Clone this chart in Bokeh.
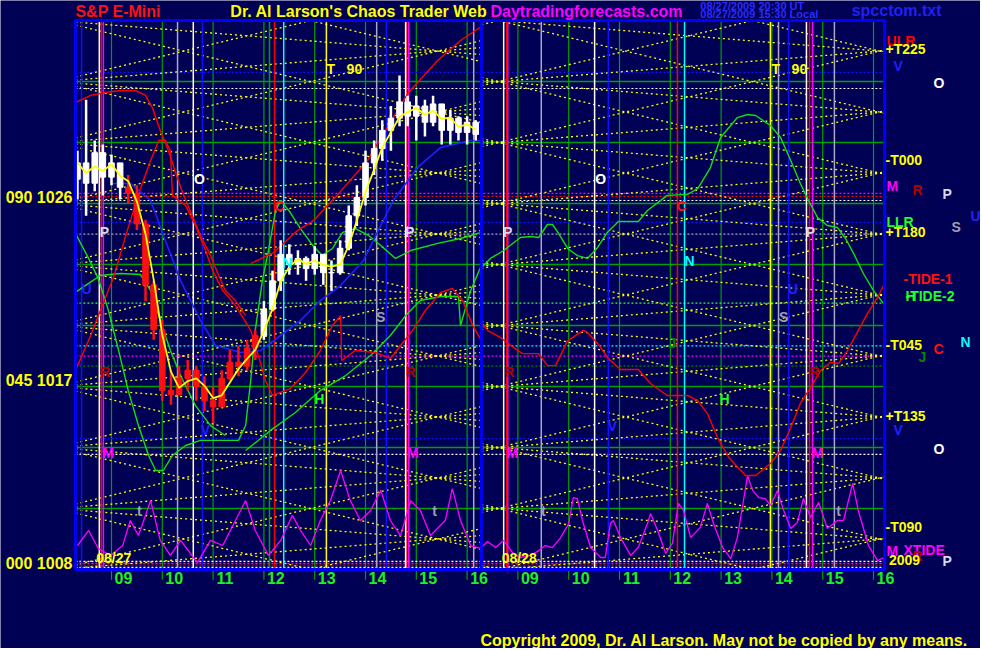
import numpy as np
import pandas as pd
from bokeh.plotting import figure
from bokeh.models import Label, FixedTicker
from bokeh.core.properties import value
from bokeh.embed import file_html
from bokeh.resources import INLINE

NAVY = "#000055"
FONT = "Liberation Sans"

# chart box (hours on x: day-2 hours are shifted by +8; S&P price on y)
X_START, X_END = 8.29, 24.22
Y_MIN, Y_MAX = 1008, 1035
DAY_SPLIT = 16.28
# whole canvas in the same units (texts around the chart live here)
CANVAS_X = (6.815, 26.106)
CANVAS_Y = (1004.114, 1035.988)

# ---------------- price bars (day 1, 10-minute bars) ----------------
bar_time = [8.33, 8.5, 8.67, 8.83, 9.0, 9.17, 9.33, 9.5, 9.67, 9.83, 10.0, 10.17,
            10.33, 10.5, 10.67, 10.83, 11.0, 11.17, 11.33, 11.5, 11.67, 11.83, 12.0, 12.17,
            12.33, 12.5, 12.67, 12.83, 13.0, 13.17, 13.33, 13.5, 13.67, 13.83, 14.0, 14.17,
            14.33, 14.5, 14.67, 14.83, 15.0, 15.17, 15.33, 15.5, 15.67, 15.83, 16.0, 16.17]
bar_open = [1027.2, 1028.0, 1027.0, 1028.5, 1027.3, 1028.0, 1026.8, 1026.5, 1025.0, 1022.0, 1019.8, 1016.8,
            1016.6, 1017.4, 1017.8, 1017.0, 1016.3, 1016.0, 1017.4, 1018.2, 1018.0, 1018.9, 1019.5, 1020.8,
            1022.2, 1023.5, 1023.0, 1023.3, 1022.8, 1023.5, 1022.6, 1022.6, 1023.8, 1025.4, 1026.3, 1028.0,
            1028.7, 1029.6, 1030.2, 1031.0, 1030.3, 1030.8, 1030.0, 1030.9, 1029.6, 1030.2, 1029.5, 1030.0]
bar_high = [1028.6, 1031.1, 1029.1, 1028.9, 1028.4, 1027.9, 1027.4, 1026.9, 1025.2, 1022.2, 1020.3, 1017.8,
            1018.0, 1018.3, 1018.0, 1017.5, 1017.0, 1017.8, 1018.8, 1019.0, 1019.3, 1019.8, 1021.2, 1022.7,
            1024.2, 1024.0, 1023.7, 1023.4, 1023.9, 1023.4, 1023.2, 1024.2, 1025.9, 1026.9, 1028.6, 1029.1,
            1030.1, 1030.8, 1032.3, 1031.3, 1031.3, 1031.1, 1031.3, 1030.6, 1030.6, 1030.3, 1030.3, 1030.1]
bar_low = [1026.2, 1025.4, 1026.6, 1026.4, 1026.9, 1026.2, 1026.0, 1024.7, 1021.2, 1019.3, 1016.3, 1016.1,
           1016.6, 1016.8, 1016.3, 1015.8, 1015.2, 1016.6, 1017.3, 1017.5, 1017.8, 1018.3, 1019.3, 1020.7,
           1021.7, 1022.5, 1022.5, 1022.2, 1022.5, 1022.0, 1021.7, 1022.5, 1023.7, 1024.9, 1025.9, 1027.4,
           1028.1, 1028.6, 1029.8, 1029.8, 1029.1, 1029.3, 1029.8, 1028.9, 1028.9, 1029.1, 1028.9, 1029.1]
bar_close = [1028.0, 1027.0, 1028.5, 1027.3, 1028.0, 1026.8, 1026.5, 1025.0, 1022.0, 1019.8, 1016.8, 1016.6,
             1017.4, 1017.8, 1017.0, 1016.3, 1016.0, 1017.4, 1018.2, 1018.0, 1018.9, 1019.5, 1020.8, 1022.2,
             1023.5, 1023.0, 1023.3, 1022.8, 1023.5, 1022.6, 1022.6, 1023.8, 1025.4, 1026.3, 1028.0, 1028.7,
             1029.6, 1030.2, 1031.0, 1030.3, 1030.8, 1030.0, 1030.9, 1029.6, 1030.2, 1029.5, 1030.0, 1029.4]
red_bar_from, red_bar_to = 9.3, 11.95

# slow average line (blue)
blue_t = [8.98, 9.37, 9.77, 10.06, 10.36, 10.75, 11.05, 11.54, 11.93, 12.33, 12.72, 13.11,
          13.51, 13.96, 14.30, 14.55, 15.02, 15.48, 16.07, 16.28]
blue_p = [1026.99, 1026.99, 1026.15, 1024.18, 1022.21, 1020.25, 1019.02, 1018.67, 1018.77, 1019.51, 1020.25, 1021.23,
          1021.97, 1023.20, 1024.92, 1026.15, 1027.77, 1028.76, 1029.10, 1029.10]

# ---------------- tide curves ----------------
tide1_d1_t = [8.29, 8.59, 8.78, 9.04, 9.31, 9.57, 9.77, 9.93, 10.06, 10.16, 10.20, 10.46, 10.65, 10.85, 10.99,
              11.19, 11.44, 11.74, 11.89, 12.03, 12.17, 12.52, 12.82, 13.11, 13.35, 13.51, 13.53, 13.80, 14.20,
              14.49, 14.69, 14.93, 15.18, 15.48, 15.71, 15.91, 16.11, 16.28]
tide1_d1_p = [1017.79, 1019.51, 1020.74, 1022.36, 1024.67, 1026.74, 1028.12, 1029.10, 1029.10, 1028.61, 1026.40,
              1025.90, 1024.92, 1023.69, 1022.71, 1021.72, 1020.99, 1019.76, 1018.53, 1017.30, 1016.56, 1016.90,
              1017.69, 1018.77, 1020.00, 1020.49, 1018.28, 1018.77, 1018.67, 1018.38, 1019.02, 1019.76, 1020.74,
              1021.63, 1021.82, 1021.23, 1020.00, 1019.26]
arc_d1_t = [8.29, 8.59, 8.88, 9.18, 9.47, 9.67, 9.81, 9.96, 10.12, 10.28, 10.42, 10.59, 10.75, 10.95, 11.11,
            11.24, 11.44, 11.64]
arc_d1_p = [1030.97, 1031.32, 1031.46, 1031.56, 1031.56, 1031.32, 1030.68, 1029.59, 1028.61, 1027.38, 1026.40,
            1025.41, 1024.43, 1023.45, 1022.46, 1021.72, 1021.23, 1020.49]
rise_d1_t = [11.74, 12.19, 12.66, 12.98, 13.47, 14.04, 14.63, 14.83, 15.42, 15.87, 16.28]
rise_d1_p = [1023.05, 1023.59, 1024.67, 1025.17, 1026.49, 1028.12, 1030.58, 1031.41, 1033.04, 1034.02, 1034.71]
tide1_d2_t = [16.28, 16.40, 16.66, 16.80, 17.09, 17.41, 17.58, 17.74, 17.98, 18.29, 18.37, 18.57, 18.78, 19.02,
              19.37, 19.61, 19.94, 20.34, 20.54, 20.73, 20.93, 21.15, 21.48, 21.68, 21.97, 22.17, 22.37, 22.56,
              22.76, 22.96, 23.15, 23.31, 23.49, 23.70, 23.88, 24.08, 24.22]
tide1_d2_p = [1020.15, 1019.76, 1019.41, 1019.12, 1018.62, 1018.62, 1018.03, 1018.03, 1019.26, 1019.76, 1019.66,
              1019.12, 1018.38, 1017.84, 1017.84, 1017.15, 1016.56, 1016.56, 1016.31, 1015.67, 1014.49, 1013.51,
              1012.62, 1012.62, 1013.21, 1013.85, 1014.98, 1016.17, 1016.95, 1017.79, 1018.18, 1018.13, 1018.77,
              1019.76, 1020.59, 1021.38, 1022.07]

tide2_d1_t = [8.29, 8.55, 8.74, 8.94, 9.14, 9.33, 9.53, 9.73, 9.87, 10.02, 10.20, 10.46, 10.75, 11.50, 11.64,
              11.74, 11.83, 11.97, 12.09, 12.23, 12.33, 12.52, 12.72, 12.96, 13.15, 13.35, 13.55, 13.80, 14.06,
              14.30, 14.59, 14.89, 15.42, 15.87, 16.28]
tide2_d1_p = [1024.53, 1023.30, 1022.31, 1020.74, 1018.77, 1016.80, 1015.08, 1013.61, 1012.87, 1012.87, 1013.61,
              1014.10, 1014.35, 1014.35, 1015.08, 1017.30, 1019.76, 1022.22, 1023.69, 1025.66, 1026.15, 1025.56,
              1024.77, 1023.94, 1023.45, 1023.79, 1024.58, 1024.77, 1024.43, 1023.94, 1023.30, 1023.69, 1024.04,
              1024.28, 1024.58]
hline_d1_t = [11.64, 12.13, 12.62, 13.11, 13.61, 14.10, 14.49, 14.79, 15.08, 15.48, 15.83, 15.87, 16.07, 16.28]
hline_d1_p = [1013.85, 1014.84, 1015.72, 1016.80, 1017.54, 1018.53, 1019.51, 1020.49, 1021.23, 1021.43, 1021.43,
              1020.00, 1021.72, 1022.95]
flat_d1_t = [8.29, 8.55, 8.78, 9.18, 9.57, 9.77, 9.96, 10.16, 10.36, 10.65, 10.95, 11.24]
flat_d1_p = [1021.63, 1022.07, 1022.46, 1022.56, 1022.51, 1021.72, 1020.25, 1018.77, 1017.54, 1016.07, 1015.08,
             1014.59]
tide2_d2_t = [16.28, 16.46, 16.72, 17.05, 17.25, 17.41, 17.58, 17.68, 17.80, 17.98, 18.17, 18.37, 18.57, 18.76,
              18.98, 19.37, 19.55, 19.94, 20.34, 20.54, 20.79, 20.99, 21.32, 21.52, 21.68, 21.97, 22.17, 22.37,
              22.56, 22.72, 22.90, 23.09, 23.29, 23.45, 23.61, 23.80, 24.00, 24.20]
tide2_d2_p = [1022.85, 1023.30, 1023.69, 1024.33, 1024.38, 1024.33, 1024.97, 1024.97, 1024.53, 1023.79, 1023.44,
              1023.30, 1023.84, 1024.58, 1025.12, 1025.12, 1025.66, 1026.40, 1026.45, 1026.74, 1027.77, 1029.25,
              1030.23, 1030.38, 1030.33, 1029.84, 1029.25, 1028.12, 1026.99, 1026.15, 1025.31, 1024.92, 1024.82,
              1024.28, 1023.54, 1022.56, 1021.72, 1021.08]

xtide_d1_t = [8.33, 8.55, 8.74, 8.98, 9.22, 9.37, 9.53, 9.77, 9.96, 10.16, 10.36, 10.69, 10.95, 11.19, 11.44,
              11.64, 11.83, 12.09, 12.33, 12.56, 12.72, 12.92, 13.11, 13.31, 13.51, 13.70, 13.90, 14.10, 14.30,
              14.49, 14.69, 14.89, 15.08, 15.28, 15.57, 15.71, 15.87, 16.07, 16.28]
xtide_d1_p = [1009.18, 1009.92, 1009.03, 1008.69, 1009.18, 1010.41, 1009.67, 1011.39, 1009.43, 1008.69, 1009.43,
              1008.34, 1009.43, 1009.18, 1010.41, 1011.39, 1009.92, 1008.69, 1009.43, 1010.66, 1009.92, 1009.18,
              1010.41, 1011.39, 1012.87, 1011.39, 1010.41, 1010.90, 1011.89, 1010.41, 1009.67, 1011.39, 1010.90,
              1009.67, 1010.41, 1011.98, 1010.41, 1009.18, 1009.03]
xtide_d2_t = [16.28, 16.40, 16.56, 16.72, 16.89, 17.05, 17.25, 17.41, 17.54, 17.68, 17.84, 18.00, 18.09, 18.17,
              18.27, 18.43, 18.63, 18.72, 18.82, 18.88, 19.02, 19.22, 19.37, 19.55, 19.61, 19.75, 19.91, 20.04,
              20.16, 20.26, 20.40, 20.59, 20.73, 20.85, 21.03, 21.19, 21.32, 21.52, 21.62, 21.74, 21.87, 21.97,
              22.11, 22.21, 22.37, 22.50, 22.62, 22.76, 22.92, 23.09, 23.29, 23.41, 23.59, 23.70, 23.90, 24.08,
              24.20]
xtide_d2_p = [1009.08, 1009.38, 1009.08, 1009.43, 1008.84, 1008.59, 1008.69, 1008.93, 1009.18, 1009.08, 1009.57,
              1010.26, 1011.54, 1011.49, 1010.41, 1009.08, 1008.59, 1008.59, 1010.26, 1010.41, 1009.57, 1008.69,
              1009.08, 1010.26, 1010.75, 1009.92, 1008.79, 1009.28, 1011.25, 1010.90, 1009.57, 1010.07, 1011.25,
              1010.26, 1009.08, 1008.54, 1009.57, 1012.62, 1011.89, 1011.54, 1011.49, 1011.15, 1011.89, 1011.05,
              1010.02, 1010.31, 1011.49, 1010.56, 1011.30, 1010.02, 1010.41, 1010.41, 1012.23, 1010.90, 1009.18,
              1008.44, 1008.59]

# ---------------- time lines and price levels ----------------
hour_ticks = [9, 10, 11, 12, 13, 14, 15, 16, 17, 18, 19, 20, 21, 22, 23, 24]
hour_labels = ["09", "10", "11", "12", "13", "14", "15", "16"] * 2
hour_tick_low = 1007.5
vline_time = [8.41, 8.76, 8.80, 8.84, 10.30, 10.61, 10.79, 12.11, 12.21, 12.39, 13.23, 14.22, 14.41,
              14.79, 14.81, 14.85, 16.13,
              16.72, 16.78, 16.80, 17.46, 18.51, 18.78, 20.14, 20.28, 21.97, 22.13, 22.33, 22.68, 22.74,
              22.80, 23.23]
vline_kind = ["blue", "white", "red", "magenta", "gray", "white", "blue", "green", "red", "cyan", "yellow",
              "gray", "blue", "white", "red", "magenta", "gray",
              "white", "red", "magenta", "gray", "white", "blue", "red", "cyan", "yellow", "gray", "blue",
              "white", "red", "magenta", "gray"]
grid_levels = [1008, 1011, 1014, 1017, 1020, 1023, 1026, 1029, 1032, 1035]
level_price = [1032.45, 1031.66, 1026.50, 1026.35, 1026.15, 1025.07, 1024.50, 1021.10, 1019.00, 1018.50,
               1018.00, 1014.44, 1013.66, 1008.40, 1008.30, 1008.22, 1008.10]
level_kind = ["blue", "white", "magenta", "red", "white", "blue", "gray", "lime", "cyan", "magenta",
              "darkgreen", "blue", "white", "white", "magenta", "red", "white"]

# time-price lattice ("T" lines)
lattice_anchor = [7.92, 16.62]
lattice_slopes = [0.2, 0.6]
lattice_step = 3.0

left_ticks = [1008.3, 1017.3, 1026.3]
left_labels = ["000 1008", "045 1017", "090 1026"]

# letters drawn inside the chart
mark_text = ["T\u00a0\u00a0\u00a090", "T\u00a0\u00a0\u00a090", "O", "O", "P", "P", "P", "P", "C", "C", "N", "N",
             "U", "U", "S", "S", "J", "R", "R", "R", "R", "H", "H", "V", "V", "M", "M", "M", "M",
             "t", "t", "t", "t", "08/27", "08/28"]
mark_t = [13.23, 21.99, 10.73, 18.63, 8.86, 14.87, 16.80, 22.76, 12.31, 20.22, 12.46, 20.38, 8.51, 22.41,
          14.30, 22.23, 20.04, 8.88, 14.89, 16.83, 22.84, 13.09, 21.07, 10.85, 18.86, 8.94, 14.93, 16.89,
          22.90, 9.55, 15.36, 17.50, 23.31, 8.70, 16.68]
mark_p = [1032.64, 1032.64, 1027.23, 1027.23, 1024.58, 1024.58, 1024.58, 1024.58, 1025.86, 1025.86, 1023.10,
          1023.15, 1021.82, 1021.82, 1020.44, 1020.44, 1019.12, 1017.69, 1017.69, 1017.69, 1017.69, 1016.41,
          1016.41, 1014.84, 1015.08, 1013.71, 1013.71, 1013.71, 1013.71, 1010.90, 1010.90, 1010.90, 1010.90,
          1008.59, 1008.59]

# labels right of the chart
side_text = ["ULR", "+T225", "V", "O", "-T000", "M", "R", "P", "U", "S", "LLR", "+T180", "-TIDE-1",
             "-TIDE-2", "H", "-T045", "C", "N", "J", "+T135", "V", "O", "-T090", "M", "XTIDE", "R", "2009", "P"]
side_t = [24.256, 24.236, 24.394, 25.181, 24.236, 24.256, 24.768, 25.358, 25.909, 25.535, 24.256, 24.236,
          24.591, 24.630, 24.630, 24.236, 25.181, 25.713, 24.886, 24.236, 24.394, 25.181, 24.236, 24.256,
          24.591, 24.768, 24.303, 25.358]
side_p = [1034.02, 1033.58, 1032.79, 1031.95, 1028.12, 1026.84, 1026.69, 1026.49, 1025.41, 1024.87, 1025.07,
          1024.58, 1022.31, 1021.43, 1021.43, 1019.02, 1018.87, 1019.21, 1018.43, 1015.53, 1014.84, 1013.95,
          1010.07, 1008.89, 1008.98, 1008.64, 1008.49, 1008.44]

COL = {"white": "#ffffff", "gray": "#a8a8c8", "red": "#ff0000", "magenta": "#ff00ff", "cyan": "#00ffff",
       "yellow": "#ffff00", "blue": "#1010ff", "green": "#00a000", "lime": "#30ff30", "darkgreen": "#008000"}
LETTER_COL = {"O": "#ffffff", "P": "#d8d8f0", "C": "#ff1010", "N": "#00ffff",
              "U": "#2020ff", "S": "#a0a0b0", "J": "#008800", "R": "#b00000", "H": "#20ff20", "V": "#2020ff",
              "M": "#ff00ff", "t": "#a0a0b0", "08/27": "#ffff00", "08/28": "#ffff00",
              "ULR": "#ff0000", "LLR": "#20ff20", "-TIDE-1": "#ff1010", "-TIDE-2": "#20ff20",
              "XTIDE": "#ff00ff", "2009": "#ffff00"}

# ---------------- figure ----------------
p = figure(width=980, height=648, x_range=CANVAS_X, y_range=CANVAS_Y,
           output_backend="svg", toolbar_location=None,
           min_border_left=0, min_border_right=0, min_border_top=0, min_border_bottom=0,
           background_fill_color=NAVY, border_fill_color=NAVY, outline_line_color=None)
p.grid.visible = False

n = len(grid_levels)
p.segment([X_START] * n, grid_levels, [X_END] * n, grid_levels, line_color=COL["green"], line_width=1.5)
n = len(hour_ticks)
p.segment(hour_ticks, [hour_tick_low] * n, hour_ticks, [Y_MAX] * n, line_color=COL["green"], line_width=1.2)

# dotted price levels
for kind in sorted(set(level_kind)):
    ys = [y for y, k in zip(level_price, level_kind) if k == kind]
    p.segment([X_START] * len(ys), ys, [X_END] * len(ys), ys, line_color=COL[kind], line_width=1.2,
              line_dash="2 2")


def clip_to_box(xa, ya, xb, yb):
    lo, hi = 0.0, 1.0
    dy = yb - ya
    for bound, sign in ((Y_MIN, 1), (Y_MAX, -1)):
        if dy == 0:
            if (ya - bound) * sign < 0:
                return None
            continue
        tb = (bound - ya) / dy
        if dy * sign > 0:
            lo = max(lo, tb)
        else:
            hi = min(hi, tb)
    if lo >= hi:
        return None
    return xa + (xb - xa) * lo, ya + dy * lo, xa + (xb - xa) * hi, ya + dy * hi


# lattice
x0, y0, x1, y1 = [], [], [], []
day_bounds = [(X_START, DAY_SPLIT), (DAY_SPLIT, X_END)]
for t0, (ds, de) in zip(lattice_anchor, day_bounds):
    for s in lattice_slopes:
        for sgn in (1, -1):
            for i in range(-20, 30):
                base = Y_MIN + lattice_step * i
                seg = clip_to_box(ds, base + sgn * s * (ds - t0), de, base + sgn * s * (de - t0))
                if seg is None:
                    continue
                x0.append(seg[0]); y0.append(seg[1]); x1.append(seg[2]); y1.append(seg[3])
p.segment(x0, y0, x1, y1, line_color="#ffff00", line_width=1.3, line_dash="2 3")

# vertical time lines
for kind in sorted(set(vline_kind)):
    xs = [x for x, k in zip(vline_time, vline_kind) if k == kind]
    p.segment(xs, [Y_MIN] * len(xs), xs, [Y_MAX] * len(xs), line_color=COL[kind], line_width=1.5)

# curves
p.line(xtide_d1_t, xtide_d1_p, line_color="#ff00ff", line_width=1.3)
p.line(xtide_d2_t, xtide_d2_p, line_color="#ff00ff", line_width=1.3)
for tt, pp in [(tide2_d1_t, tide2_d1_p), (hline_d1_t, hline_d1_p), (flat_d1_t, flat_d1_p),
               (tide2_d2_t, tide2_d2_p)]:
    p.line(tt, pp, line_color="#10e010", line_width=1.4)
for tt, pp in [(tide1_d1_t, tide1_d1_p), (arc_d1_t, arc_d1_p), (rise_d1_t, rise_d1_p),
               (tide1_d2_t, tide1_d2_p)]:
    p.line(tt, pp, line_color="#ff0000", line_width=1.4)
p.line(blue_t, blue_p, line_color="#2020ff", line_width=1.6)

# price bars
t = np.array(bar_time)
o, h, l, c = map(np.array, (bar_open, bar_high, bar_low, bar_close))
is_red = (t > red_bar_from) & (t < red_bar_to)
bar_col = np.where(is_red, "#ff1010", "#ffffff")
p.segment(t, l, t, h, line_color=bar_col, line_width=2.5)
p.vbar(x=t, top=np.maximum(o, c), bottom=np.minimum(o, c), width=0.11, fill_color=bar_col, line_color=bar_col)
fast = pd.Series(bar_close).rolling(3, min_periods=1).mean()
p.line(t, fast, line_color="#ffff00", line_width=1.8)

# chart border and day divider
p.segment([DAY_SPLIT], [Y_MIN], [DAY_SPLIT], [Y_MAX], line_color="#0000ff", line_width=3)
p.quad(left=[X_START], right=[X_END], bottom=[Y_MIN], top=[Y_MAX], fill_color=None,
       line_color="#0000ff", line_width=3)

# letters in chart
for kind in sorted(set(mark_text)):
    idx = [i for i, k in enumerate(mark_text) if k == kind]
    p.text([mark_t[i] for i in idx], [mark_p[i] for i in idx], text=[kind] * len(idx),
           text_color=LETTER_COL.get(kind, "#ffff00"), text_font=value(FONT), text_font_style="bold",
           text_font_size="14px", text_align="left" if len(kind) > 1 else "center",
           text_baseline="middle")

# axes (placed on the chart box edges)
p.xaxis.fixed_location = Y_MIN
p.yaxis.fixed_location = X_START
p.xaxis.ticker = FixedTicker(ticks=[x + 0.235 for x in hour_ticks])
p.xaxis.major_label_overrides = {x + 0.235: lab for x, lab in zip(hour_ticks, hour_labels)}
p.yaxis.ticker = FixedTicker(ticks=left_ticks)
p.yaxis.major_label_overrides = dict(zip(left_ticks, left_labels))
for ax in list(p.xaxis) + list(p.yaxis):
    ax.axis_line_color = None
    ax.major_tick_line_color = None
    ax.minor_tick_line_color = None
    ax.major_tick_out = 0
    ax.major_tick_in = 0
    ax.major_label_text_font = FONT
    ax.major_label_text_font_style = "bold"
p.xaxis.major_label_text_color = "#20f020"
p.xaxis.major_label_text_font_size = "16px"
p.xaxis.major_label_standoff = 3
p.yaxis.major_label_text_color = "#ffff00"
p.yaxis.major_label_text_font_size = "16px"
p.yaxis.major_label_standoff = 3


def add_label(x, y, text, color, size="14px", align="left"):
    p.add_layout(Label(x=x, y=y, text=text, text_color=color, text_font=FONT, text_font_size=size,
                       text_font_style="bold", text_align=align, text_baseline="middle"))


for tx, xx, yy in zip(side_text, side_t, side_p):
    add_label(xx, yy, tx, LETTER_COL.get(tx, "#ffff00"))

# titles
add_label(8.29, 1035.45, "S&P E-Mini", "#ff1010", "16px")
add_label(11.34, 1035.45, "Dr. Al Larson's Chaos Trader Web", "#ffff00", "16px")
add_label(16.46, 1035.45, "Daytradingforecasts.com", "#ff00ff", "16px")
add_label(20.59, 1035.72, "08/27/2009 20:30 UT", "#2a2aff", "11px")
add_label(20.59, 1035.30, "08/27/2009 15:30 Local", "#2a2aff", "11px")
add_label(23.57, 1035.50, "spcctom.txt", "#2020f0", "16px")
add_label(16.264, 1004.51, "Copyright 2009, Dr. Al Larson. May not be copied by any means.", "#ffff00", "16px")

open("out.html", "w").write(file_html(p, INLINE))
